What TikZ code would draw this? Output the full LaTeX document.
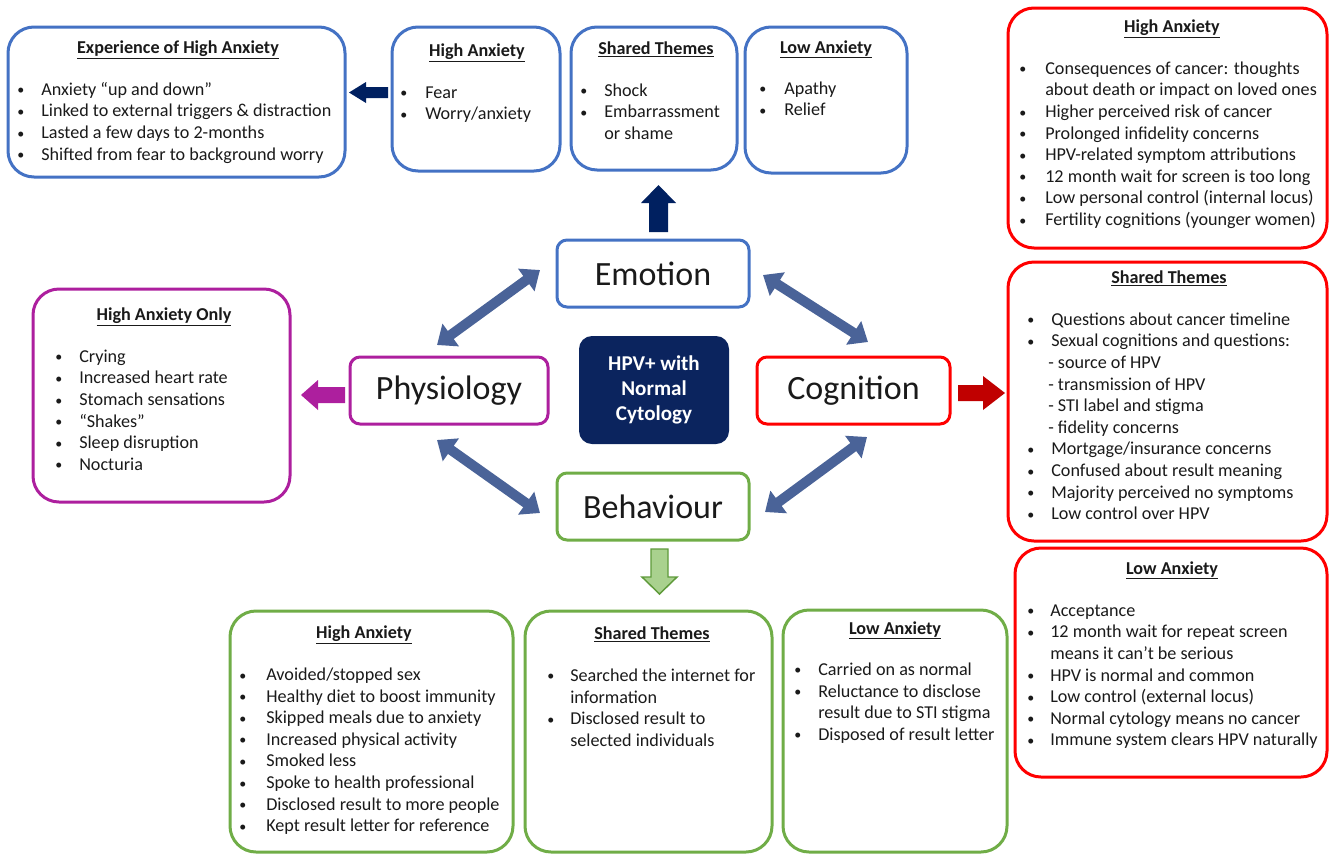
\documentclass[tikz,border=0pt]{standalone}
\usepackage{fontspec}
\setmainfont{Carlito}
\usetikzlibrary{arrows.meta,fit}
\definecolor{cblue}{HTML}{4472C4}
\definecolor{cred}{HTML}{FF0000}
\definecolor{cpurple}{HTML}{AD1F9E}
\definecolor{cgreen}{HTML}{70AD47}
\definecolor{cnavy}{HTML}{0B245E}
\definecolor{anavy}{HTML}{002060}
\definecolor{asteel}{HTML}{4A6398}
\definecolor{ared}{HTML}{C00000}
\definecolor{agreenf}{HTML}{A9D18E}
\definecolor{agreend}{HTML}{5E9A3A}
\definecolor{ctext}{HTML}{1A1A1A}
\newdimen\pxu \pxu=0.75pt
\newcommand\bsz{\fontsize{13.6}{16.2}\selectfont}
\newcommand\blt{{\fontsize{10.5}{10}\selectfont\raisebox{0.3pt}{\textbullet}}}
\newcommand\itm[1]{\blt & #1\\}
\newcommand\cnt[1]{ & #1\\}
\newcommand\sub[1]{\multicolumn{2}{@{}l@{}}{\hspace{21\pxu}#1}\\}
\newcommand\lst[2]{\begin{tabular}{@{}p{#1\pxu}@{}l@{}}#2\end{tabular}}
\tikzset{
  bigbox/.style={draw=#1, line width=2.25pt, rounded corners=19.5pt, fill=white, inner sep=0pt},
  midbox/.style={draw=#1, line width=2.25pt, rounded corners=7.5pt, fill=white, inner sep=0pt},
  midtxt/.style={inner sep=0pt, font=\fontsize{25.5}{28}\selectfont, text=ctext},
  ttl/.style={anchor=base, inner sep=0pt, font=\bsz\bfseries, text=ctext},
  lstn/.style={anchor=north west, inner sep=0pt, font=\bsz, text=ctext},
  dbl/.style={draw=asteel, line width=7.5pt,
    {Triangle[length=12.75pt,width=20.25pt]}-{Triangle[length=12.75pt,width=20.25pt]}}
}
\begin{document}
\begin{tikzpicture}[x=0.75pt,y=-0.75pt]
\useasboundingbox (0,0) rectangle (1331,854);
% ---------- central nodes
\node[midbox=cblue, fit={(557,240)(749,307)}] (emo) {};
\node[midtxt] (emot) at (emo.center) {Emotion};
\node[midbox=cpurple, fit={(350,357)(548,424)}] (phy) {};
\node[midtxt] (phyt) at (phy.center) {Physiology};
\node[midbox=cred, fit={(757,357)(950,424)}] (cog) {};
\node[midtxt] (cogt) at (cog.center) {Cognition};
\node[midbox=cgreen, fit={(557,473)(749,540)}] (beh) {};
\node[midtxt] (beht) at (beh.center) {Behaviour};
\node[fill=cnavy, rounded corners=9.75pt, inner sep=0pt, fit={(579,336)(729,444)}] (hpv) {};
\node[text=white, align=center, font=\fontsize{15.8}{18.75}\selectfont\bfseries] (hpvt) at (hpv.center) {HPV+ with\\Normal\\Cytology};
% ---------- double arrows
\coordinate (ep1) at (437,345); \coordinate (ep2) at (540,270);
\coordinate (ec1) at (763,275); \coordinate (ec2) at (868,342);
\coordinate (pb1) at (437,440); \coordinate (pb2) at (540,513);
\coordinate (bc1) at (765,512); \coordinate (bc2) at (867,437);
\draw[dbl] (ep1) -- (ep2);
\draw[dbl] (ec1) -- (ec2);
\draw[dbl] (pb1) -- (pb2);
\draw[dbl] (bc1) -- (bc2);
% ---------- block arrows
\fill[anavy] (649,232) -- (668,232) -- (668,203) -- (676,203) -- (658.5,185) -- (641,203) -- (649,203) -- cycle;
\fill[anavy] (388,87) -- (366,87) -- (366,82) -- (349,92.5) -- (366,103) -- (366,98) -- (388,98) -- cycle;
\fill[cpurple] (345,387) -- (318,387) -- (318,380) -- (301,395) -- (318,410) -- (318,403) -- (345,403) -- cycle;
\fill[ared] (958,385) -- (983,385) -- (983,376) -- (1005,393) -- (983,410) -- (983,401) -- (958,401) -- cycle;
\filldraw[fill=agreenf, draw=agreend, line width=1.1pt, line join=miter] (651,549) -- (668,549) -- (668,577) -- (677,577) -- (659.5,594) -- (642,577) -- (651,577) -- cycle;
% ---------- Box A: experience
\node[bigbox=cblue, fit={(8,27)(345,177)}] (bA) {};
\node[ttl] (tA) at (178,53) {\underline{Experience of High Anxiety}};
\node[lstn] (lA) at (17,80) {\lst{24}{\itm{Anxiety “up and down”}\itm{Linked to external triggers \& distraction}\itm{Lasted a few days to 2-months}\itm{Shifted from fear to background worry}}};
% ---------- Box B
\node[bigbox=cblue, fit={(392,27)(560,171)}] (bB) {};
\node[ttl] (tB) at (477,56) {\underline{High Anxiety}};
\node[lstn] (lB) at (400,83) {\lst{25}{\itm{Fear}\itm{Worry/anxiety}}};
% ---------- Box C
\node[bigbox=cblue, fit={(571,27)(737,170)}] (bC) {};
\node[ttl] (tC) at (656,54) {\underline{Shared Themes}};
\node[lstn] (lC) at (580,81) {\lst{24}{\itm{Shock}\itm{Embarrassment}\cnt{or shame}}};
% ---------- Box D
\node[bigbox=cblue, fit={(745,27)(907,173)}] (bD) {};
\node[ttl] (tD) at (826,53) {\underline{Low Anxiety}};
\node[lstn] (lD) at (759,79) {\lst{25}{\itm{Apathy}\itm{Relief}}};
% ---------- Box E
\node[bigbox=cred, fit={(1008,8)(1327,248)}] (bE) {};
\node[ttl] (tE) at (1172,32) {\underline{High Anxiety}};
\node[lstn] (lE) at (1019,59) {\lst{26}{\itm{Consequences of cancer: thoughts}\cnt{about death or impact on loved ones}\itm{Higher perceived risk of cancer}\itm{Prolonged infidelity concerns}\itm{HPV-related symptom attributions}\itm{12 month wait for screen is too long}\itm{Low personal control (internal locus)}\itm{Fertility cognitions (younger women)}}};
% ---------- Box F
\node[bigbox=cred, fit={(1008,262)(1327,541)}] (bF) {};
\node[ttl] (tF) at (1169,283) {\underline{Shared Themes}};
\node[lstn] (lF) at (1027,310) {\lst{24}{\itm{Questions about cancer timeline}\itm{Sexual cognitions and questions:}\sub{- source of HPV}\sub{- transmission of HPV}\sub{- STI label and stigma}\sub{- fidelity concerns}\itm{Mortgage/insurance concerns}\itm{Confused about result meaning}\itm{Majority perceived no symptoms}\itm{Low control over HPV}}};
% ---------- Box G
\node[bigbox=cred, fit={(1015,548)(1327,777)}] (bG) {};
\node[ttl] (tG) at (1172,574) {\underline{Low Anxiety}};
\node[lstn] (lG) at (1027,601) {\lst{23}{\itm{Acceptance}\itm{12 month wait for repeat screen}\cnt{means it can’t be serious}\itm{HPV is normal and common}\itm{Low control (external locus)}\itm{Normal cytology means no cancer}\itm{Immune system clears HPV naturally}}};
% ---------- Box H
\node[bigbox=cpurple, fit={(33,289)(290,502)}] (bH) {};
\node[ttl] (tH) at (164,320) {\underline{High Anxiety Only}};
\node[lstn] (lH) at (55,347) {\lst{24}{\itm{Crying}\itm{Increased heart rate}\itm{Stomach sensations}\itm{“Shakes”}\itm{Sleep disruption}\itm{Nocturia}}};
% ---------- Box I
\node[bigbox=cgreen, fit={(230,611)(513,852)}] (bI) {};
\node[ttl] (tI) at (364,638) {\underline{High Anxiety}};
\node[lstn] (lI) at (239,665) {\lst{27}{\itm{Avoided/stopped sex}\itm{Healthy diet to boost immunity}\itm{Skipped meals due to anxiety}\itm{Increased physical activity}\itm{Smoked less}\itm{Spoke to health professional}\itm{Disclosed result to more people}\itm{Kept result letter for reference}}};
% ---------- Box J
\node[bigbox=cgreen, fit={(525,611)(772,852)}] (bJ) {};
\node[ttl] (tJ) at (652,639) {\underline{Shared Themes}};
\node[lstn] (lJ) at (547,666) {\lst{23}{\itm{Searched the internet for}\cnt{information}\itm{Disclosed result to}\cnt{selected individuals}}};
% ---------- Box K
\node[bigbox=cgreen, fit={(783,610)(1007,852)}] (bK) {};
\node[ttl] (tK) at (895,634) {\underline{Low Anxiety}};
\node[lstn] (lK) at (794,660) {\lst{24}{\itm{Carried on as normal}\itm{Reluctance to disclose}\cnt{result due to STI stigma}\itm{Disposed of result letter}}};
\end{tikzpicture}
\end{document}
